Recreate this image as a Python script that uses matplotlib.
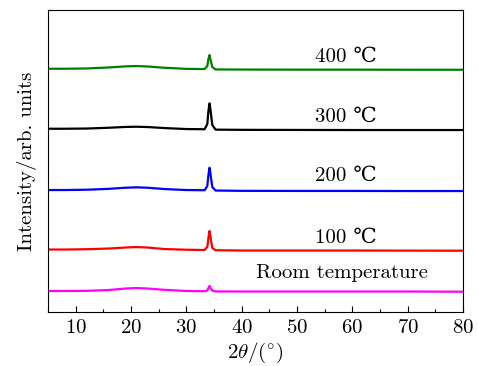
import matplotlib
matplotlib.use('Agg')
import matplotlib.pyplot as plt
from matplotlib.ticker import MultipleLocator

# 2theta sample points
two_theta = [5, 8, 12, 16, 19, 21, 23, 26, 30, 33.3, 33.8, 34.0, 34.2, 34.4, 34.7, 35.3, 40, 50, 60, 70, 80]

# intensities (arb. units, already stacked with offsets)
room_t = [21.0, 21.0, 21.2, 22.0, 23.5, 24.0, 23.5, 22.2, 21.0, 20.8, 21.5, 24.0, 26.0, 24.0, 21.5, 20.6, 20.5, 20.5, 20.5, 20.5, 20.3]
t_100 = [62.5, 62.5, 62.8, 63.5, 64.5, 65.0, 64.5, 63.0, 62.3, 62.0, 65.0, 74.0, 81.0, 74.0, 64.0, 61.8, 61.5, 61.5, 61.5, 61.4, 61.3]
t_200 = [122.0, 122.0, 122.3, 123.2, 124.3, 124.7, 124.3, 123.0, 122.0, 121.8, 126.0, 137.0, 144.3, 137.0, 125.0, 121.5, 121.2, 121.1, 121.1, 121.0, 121.0]
t_300 = [183.3, 183.3, 183.5, 184.3, 185.1, 185.3, 185.0, 184.0, 183.0, 182.8, 188.0, 201.0, 208.7, 201.0, 187.0, 182.4, 182.2, 182.1, 182.0, 182.0, 182.0]
t_400 = [243.3, 243.3, 243.6, 244.6, 245.7, 246.0, 245.6, 244.3, 243.2, 243.0, 246.0, 253.0, 257.0, 252.0, 245.0, 242.6, 242.5, 242.4, 242.4, 242.3, 242.3]

labels = ['Room temperature', '100 ℃', '200 ℃', '300 ℃', '400 ℃']
colors = ['#ff00ff', '#ff0000', '#0000ff', '#000000', '#008000']

plt.rcParams['font.family'] = ['cmr10', 'DejaVu Serif']
plt.rcParams['mathtext.fontset'] = 'cm'
plt.rcParams['axes.formatter.use_mathtext'] = True
plt.rcParams['font.size'] = 15

fig = plt.figure(figsize=(4.78, 3.66), dpi=100)
ax = fig.add_axes([0.1004, 0.1475, 0.868, 0.825])

series = [room_t, t_100, t_200, t_300, t_400]
for y, c in zip(series, colors):
    ax.plot(two_theta, y, color=c, lw=1.6)

# curve labels
ax.text(42.6, 39, labels[0], ha='left', va='center')
ax.text(53.3, 74, labels[1], ha='left', va='center')
ax.text(53.3, 136, labels[2], ha='left', va='center')
ax.text(53.3, 195, labels[3], ha='left', va='center')
ax.text(53.3, 255, labels[4], ha='left', va='center')

ax.set_xlim(5, 80)
ax.set_ylim(0, 302)
ax.xaxis.set_major_locator(MultipleLocator(10))
ax.xaxis.set_minor_locator(MultipleLocator(5))
ax.tick_params(axis='x', which='major', direction='in', length=4.5, width=0.8, pad=5)
ax.tick_params(axis='x', which='minor', direction='in', length=2.2, width=0.8)
ax.set_yticks([])
ax.set_xlabel(r'$2\theta/(^{\circ})$', labelpad=3)
ax.set_ylabel('Intensity/arb. units', labelpad=8)

fig.savefig('out.png', dpi=100)
